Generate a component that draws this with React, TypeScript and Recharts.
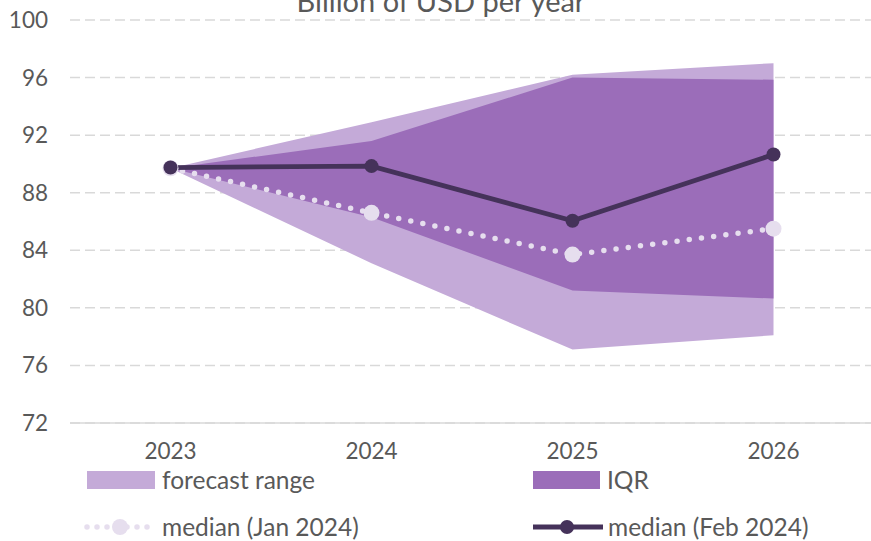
import React from 'react';
import { ComposedChart, Area, Line, XAxis, YAxis, CartesianGrid } from 'recharts';

const years = ['2023', '2024', '2025', '2026'];
const rangeLow = [89.7, 83.1, 77.1, 78.1];
const rangeHigh = [89.7, 92.9, 96.2, 97.0];
const iqrLow = [89.7, 86.3, 81.2, 80.65];
const iqrHigh = [89.7, 91.6, 96.0, 95.85];
const medianJan = [89.7, 86.6, 83.7, 85.5];
const medianFeb = [89.75, 89.85, 86.05, 90.65];
const yTicks = [72, 76, 80, 84, 88, 92, 96, 100];

const data = years.map((year, i) => ({
  year,
  range: [rangeLow[i], rangeHigh[i]],
  iqr: [iqrLow[i], iqrHigh[i]],
  jan: medianJan[i],
  feb: medianFeb[i],
}));

const FONT = 'Lato, "Open Sans", sans-serif';
const TEXT = '#595959';
const LIGHT = '#c4aad8';
const MID = '#9b6db9';
const DARK = '#45325a';
const PALE = '#e6deee';

const labelStyle: React.CSSProperties = {
  position: 'absolute',
  fontSize: 24.5,
  color: TEXT,
  fontFamily: FONT,
  lineHeight: '24px',
  whiteSpace: 'nowrap',
};

export default function App() {
  return (
    <div style={{ position: 'absolute', left: 0, top: 0, width: 871, height: 541, overflow: 'hidden', background: '#fff' }}>
      <svg width={871} height={30} style={{ position: 'absolute', left: 0, top: 0 }}>
        <text x={441} y={12} textAnchor="middle" fontSize={29} fill={TEXT} fontFamily={FONT}>
          Billion of USD per year
        </text>
      </svg>
      <ComposedChart
        width={880}
        height={541}
        data={data}
        margin={{ top: 20, right: 6, left: 0, bottom: 78 }}
        style={{ fontFamily: FONT }}
      >
        <CartesianGrid vertical={false} stroke="#d9d9d9" strokeWidth={1.5} strokeDasharray="10 5" />
        <XAxis
          xAxisId="edges"
          type="number"
          domain={[0, years.length]}
          allowDataOverflow
          ticks={years.map((_, i) => i)}
          interval={0}
          height={0}
          axisLine={false}
          tickSize={7}
          tickLine={{ stroke: '#d9d9d9', strokeWidth: 1.5 }}
          tick={() => <g />}
        />
        <XAxis
          dataKey="year"
          scale="band"
          interval={0}
          height={40}
          axisLine={{ stroke: '#d9d9d9', strokeWidth: 1.5 }}
          tickLine={false}
          tickMargin={14}
          tick={{ fontSize: 22.5, fill: TEXT, fontFamily: FONT }}
        />
        <YAxis
          domain={[72, 100]}
          ticks={yTicks}
          interval={0}
          width={70}
          axisLine={false}
          tickLine={false}
          tickMargin={16}
          tick={{ fontSize: 22.5, fill: TEXT, fontFamily: FONT }}
        />
        <Area dataKey="range" fill={LIGHT} fillOpacity={1} stroke="none" isAnimationActive={false} />
        <Area dataKey="iqr" fill={MID} fillOpacity={1} stroke="none" isAnimationActive={false} />
        <Line
          dataKey="jan"
          stroke={PALE}
          strokeWidth={5.5}
          strokeLinecap="round"
          strokeDasharray="0 12.3"
          dot={{ r: 8, fill: PALE, stroke: 'none' }}
          isAnimationActive={false}
        />
        <Line
          dataKey="feb"
          stroke={DARK}
          strokeWidth={4.8}
          dot={{ r: 7, fill: DARK, stroke: 'none' }}
          isAnimationActive={false}
        />
      </ComposedChart>

      <svg width={871} height={80} style={{ position: 'absolute', left: 0, top: 461 }}>
        <rect x={87} y={10} width={68} height={18} fill={LIGHT} />
        <rect x={533} y={10} width={67} height={18} fill={MID} />
        <line x1={87} y1={66} x2={155} y2={66} stroke={PALE} strokeWidth={5.5} strokeLinecap="round" strokeDasharray="0 10" />
        <circle cx={120} cy={66} r={8} fill={PALE} />
        <line x1={533} y1={66} x2={603} y2={66} stroke={DARK} strokeWidth={4.8} />
        <circle cx={567} cy={66} r={7} fill={DARK} />
      </svg>
      <div style={{ ...labelStyle, left: 162, top: 468 }}>forecast range</div>
      <div style={{ ...labelStyle, left: 607, top: 468 }}>IQR</div>
      <div style={{ ...labelStyle, left: 162, top: 515 }}>median (Jan 2024)</div>
      <div style={{ ...labelStyle, left: 608, top: 515 }}>median (Feb 2024)</div>
    </div>
  );
}
